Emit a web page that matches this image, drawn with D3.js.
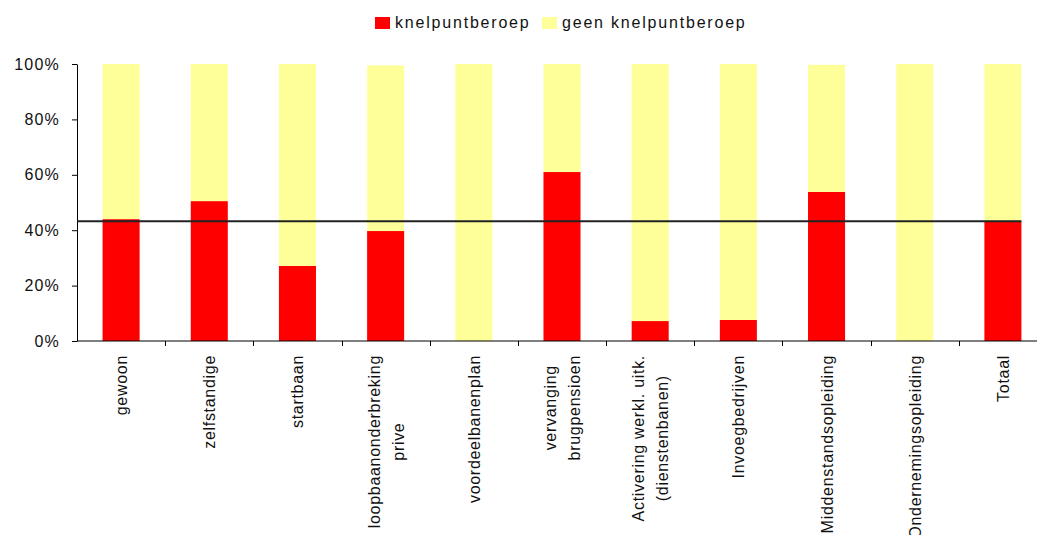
<!DOCTYPE html>
<html>
<head>
<meta charset="utf-8">
<script src="https://cdn.jsdelivr.net/npm/d3@7"></script>
<style>
  body { margin: 0; background: #fff; }
  text { font-family: "Liberation Sans", Arial, sans-serif; fill: #111; }
</style>
</head>
<body>
<div class="chart"></div>
<script>
// categories (line breaks as in the original axis labels)
const categories = [
    "gewoon",
    "zelfstandige",
    "startbaan",
    "loopbaanonderbreking\nprive",
    "voordeelbanenplan",
    "vervanging\nbrugpensioen",
    "Activering werkl. uitk.\n(dienstenbanen)",
    "Invoegbedrijven",
    "Middenstandsopleiding",
    "Ondernemingsopleiding",
    "Totaal"
];
const seriesNames = ["knelpuntberoep", "geen knelpuntberoep"];
// shares per category
const knelpunt = [0.44, 0.505, 0.271, 0.397, 0.0, 0.61, 0.072, 0.076, 0.538, 0.0, 0.432];
const geenKnelpunt = [0.56, 0.495, 0.729, 0.598, 1.0, 0.39, 0.928, 0.924, 0.459, 1.0, 0.568];
const yTicks = [0, 0.2, 0.4, 0.6, 0.8, 1.0];
// reference line = total share
const refValue = knelpunt[knelpunt.length - 1];

const colors = ["#ff0000", "#ffff99"];

const W = 1037, H = 535;
const svg = d3.select(".chart").append("svg")
    .attr("width", W)
    .attr("height", H);

const x = d3.scaleBand()
    .domain(categories)
    .range([77, 1047])
    .paddingInner(0.58)
    .paddingOuter(0.29);

const y = d3.scaleLinear()
    .domain([0, 1])
    .range([341, 64]);

// stacked data
const rows = categories.map((c, i) => ({cat: c, k: knelpunt[i], g: geenKnelpunt[i]}));
const stacked = d3.stack().keys(["k", "g"])(rows);

svg.append("g")
    .selectAll("g")
    .data(stacked)
    .enter().append("g")
    .attr("fill", (d, i) => colors[i])
    .selectAll("rect")
    .data(d => d)
    .enter().append("rect")
    .attr("x", d => x(d.data.cat))
    .attr("width", x.bandwidth())
    .attr("y", d => y(d[1]))
    .attr("height", d => y(d[0]) - y(d[1]));

// y axis
const yAxis = svg.append("g")
    .attr("transform", "translate(77,0)")
    .call(d3.axisLeft(y)
        .tickValues(yTicks)
        .tickFormat(d3.format(".0%"))
        .tickSize(5)
        .tickSizeOuter(0)
        .tickPadding(12));
yAxis.selectAll("text")
    .style("font-size", "16px")
    .style("letter-spacing", "1.2px")
    .style("font-family", "'Liberation Sans', Arial, sans-serif")
    .attr("fill", "#111");
yAxis.selectAll("line, path").attr("stroke", "#000");

// x axis line + boundary ticks
const xAxis = svg.append("g")
    .attr("transform", "translate(0,341)");
xAxis.append("line")
    .attr("x1", 77).attr("x2", W)
    .attr("stroke", "#000");
xAxis.selectAll(".btick")
    .data(categories.slice(0, -1))
    .enter().append("line")
    .attr("class", "btick")
    .attr("x1", d => Math.round(x(d) + x.bandwidth() / 2 + x.step() / 2) + 0.5)
    .attr("x2", d => Math.round(x(d) + x.bandwidth() / 2 + x.step() / 2) + 0.5)
    .attr("y1", 0).attr("y2", 5)
    .attr("stroke", "#000");

// rotated category labels
const lineH = 24;
const labels = svg.append("g").selectAll("g")
    .data(categories)
    .enter().append("g")
    .attr("transform", d => "translate(" + (x(d) + x.bandwidth() / 2) + ",355) rotate(-90)");

labels.each(function(d) {
    const g = d3.select(this);
    const lines = d.split("\n");
    const n = lines.length;
    const texts = lines.map((t, i) => g.append("text")
        .attr("y", (i - (n - 1) / 2) * lineH + 6)
        .attr("text-anchor", "middle")
        .style("font-size", "16px")
        .style("letter-spacing", "0.7px")
        .text(t));
    const maxLen = d3.max(texts, t => t.node().getComputedTextLength());
    texts.forEach(t => t.attr("x", -maxLen / 2));
});

// reference line at the total share
svg.append("line")
    .attr("x1", 77)
    .attr("x2", x(categories[categories.length - 1]) + x.bandwidth())
    .attr("y1", y(refValue))
    .attr("y2", y(refValue))
    .attr("stroke", "#222")
    .attr("stroke-width", 2);

// legend
const legendX = [375, 542];
const legend = svg.append("g").selectAll("g")
    .data(seriesNames)
    .enter().append("g")
    .attr("transform", (d, i) => "translate(" + legendX[i] + ",17)");
legend.append("rect")
    .attr("width", 15)
    .attr("height", 12)
    .attr("fill", (d, i) => colors[i]);
legend.append("text")
    .attr("x", 20)
    .attr("y", 11)
    .style("font-size", "16px")
    .style("letter-spacing", "1.8px")
    .text(d => d);
</script>
</body>
</html>
